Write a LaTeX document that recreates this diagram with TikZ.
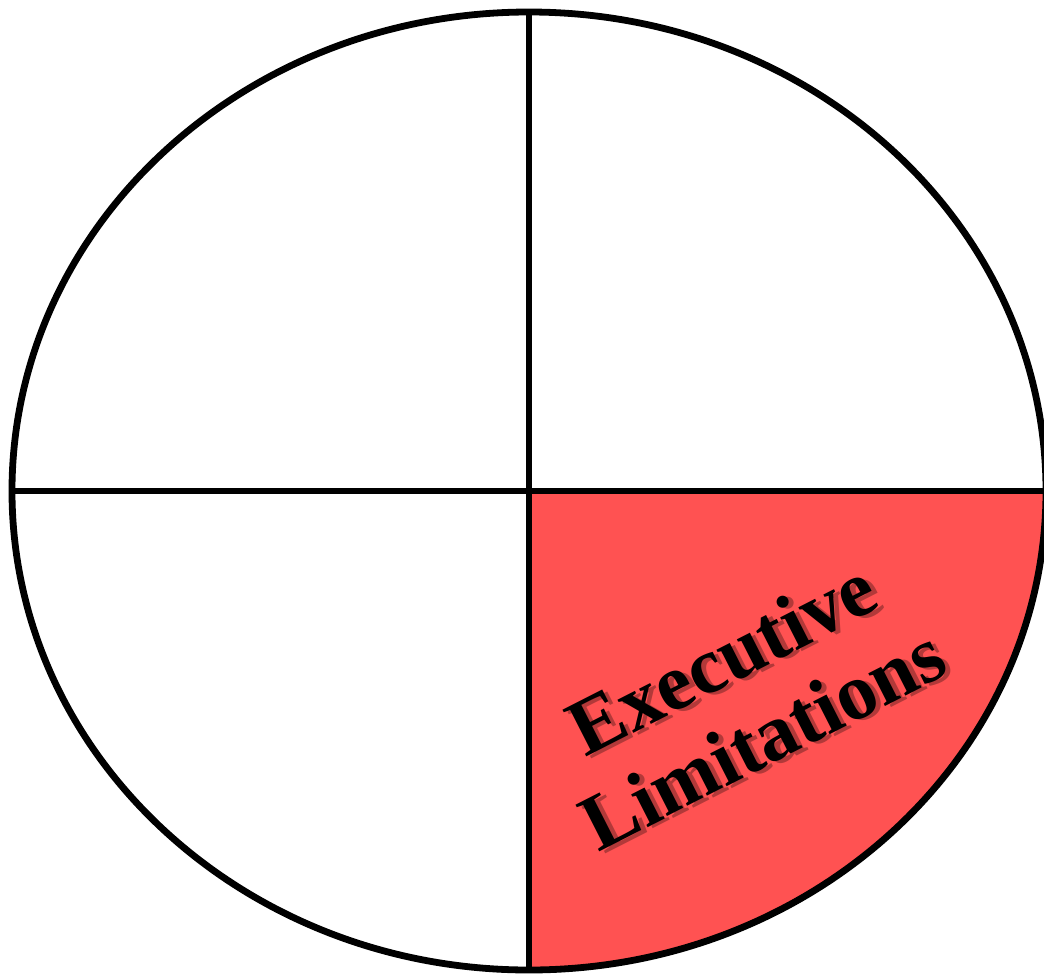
\documentclass[tikz,border=0pt]{standalone}
\usepackage{fontspec}
\setmainfont{Liberation Serif}
\usetikzlibrary{positioning}
\definecolor{limitred}{HTML}{FF5252}
\tikzset{
  rim/.style={line width=3.4pt,black},
  eltext/.style={font=\bfseries\fontsize{40}{45}\selectfont,align=center,
                 rotate=27,inner sep=0pt},
  elshade/.style={eltext,text=black,opacity=0.3},
}
\begin{document}
\begin{tikzpicture}[x=0.5pt,y=-0.5pt]
  \useasboundingbox (0,0) rectangle (1044,975);
  \clip (0,0) rectangle (1044,975);

  % centre and rim points
  \coordinate (c)   at (529,491);
  \coordinate (top) at (529,11);
  \coordinate (bot) at (529,970);
  \coordinate (lft) at (12,491);
  \coordinate (rgt) at (1046,491);

  % executive limitations quadrant
  \fill[limitred] (c) -- (rgt)
    arc[start angle=0,end angle=90,x radius=517,y radius=479] -- cycle;

  % rim and cross
  \draw[rim] (c) ellipse[x radius=517,y radius=479];
  \draw[rim] (top) -- (bot);
  \draw[rim] (lft) -- (rgt);

  % label with its shadow
  \node[elshade,xshift=2pt,yshift=-2pt] (limitshade) at (742,698) {Executive\\Limitations};
  \node[eltext] (limits) at (742,698) {Executive\\Limitations};
\end{tikzpicture}
\end{document}
